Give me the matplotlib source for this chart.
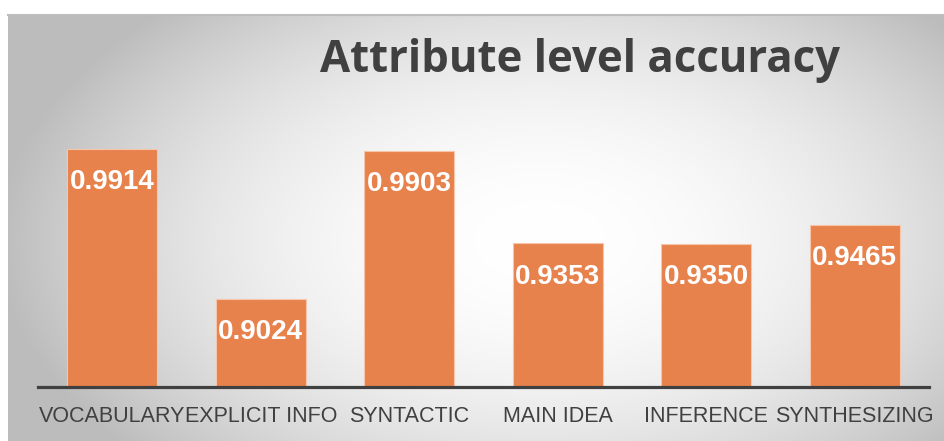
import numpy as np
import matplotlib.pyplot as plt

# attribute accuracies
categories = ['VOCABULARY', 'EXPLICIT INFO', 'SYNTACTIC', 'MAIN IDEA', 'INFERENCE', 'SYNTHESIZING']
accuracy = [0.9914, 0.9024, 0.9903, 0.9353, 0.9350, 0.9465]

W, H = 945, 441
fig = plt.figure(figsize=(W / 100, H / 100), dpi=100)
fig.patch.set_facecolor('white')

# grey panel with a soft radial highlight
px0, py0 = 8, 15
bg = fig.add_axes([px0 / W, 0, (W - px0) / W, (H - py0) / H])
xx, yy = np.meshgrid(np.arange(px0, W), np.arange(py0, H))
r = np.sqrt(((xx - 540) / 540.0) ** 2 + ((yy - 240) / 320.0) ** 2)
shade = 1.0 - 0.26 * np.clip(r, 0, 1) ** 2.0
bg.imshow(np.dstack([shade] * 3), aspect='auto', interpolation='bilinear')
bg.axis('off')
fig.add_artist(plt.Line2D([px0 / W, 1], [(H - py0) / H] * 2, color='#bdbdbd', lw=1.5))

# bar area, baseline at 0.85
ybase, ytop_px, base_px, top1_px = 0.85, 20, 387, 149
ymax = ybase + (accuracy[0] - ybase) * (base_px - ytop_px) / (base_px - top1_px)
ax = fig.add_axes([38 / W, (H - base_px) / H, 891 / W, (base_px - ytop_px) / H])
ax.patch.set_alpha(0)
x = np.arange(len(categories))
bars = ax.bar(x, [a - ybase for a in accuracy], bottom=ybase, width=0.605,
              color='#E8824C', edgecolor='#F5C6AA', linewidth=0.8, zorder=2)
ax.set_xlim(-0.5, len(categories) - 0.5)
ax.set_ylim(ybase, ymax)

for xi, a in zip(x, accuracy):
    ax.annotate(f'{a:.4f}', (xi, a), xytext=(0, -24), textcoords='offset points',
                ha='center', va='center', color='white', fontsize=20,
                fontweight='bold', family='Liberation Sans')

for s in ['top', 'left', 'right']:
    ax.spines[s].set_visible(False)
ax.spines['bottom'].set_color('#404040')
ax.spines['bottom'].set_linewidth(2.3)
ax.spines['bottom'].set_zorder(3)
ax.set_yticks([])
ax.set_xticks(x)
ax.set_xticklabels(categories, fontsize=15.5, color='#404040', family='Liberation Sans')
ax.tick_params(axis='x', length=0, pad=14)

fig.text(580 / W, (H - 72) / H, 'Attribute level accuracy', ha='center', va='baseline',
         fontsize=31.5, fontweight='bold', color='#404040', family='Open Sans')

fig.savefig('out.png', dpi=100)
